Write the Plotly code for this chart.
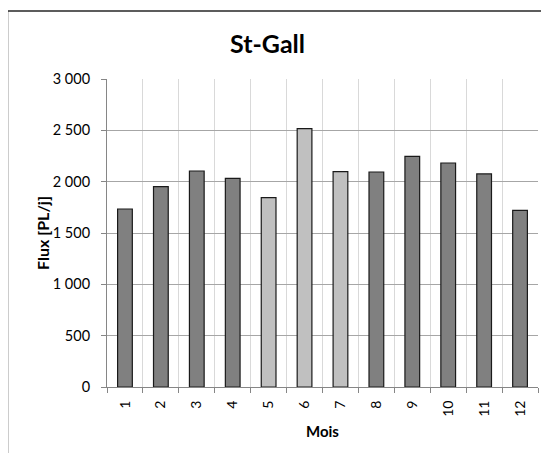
import plotly.graph_objects as go

months = list(range(1, 13))
flux = [1734, 1951, 2104, 2033, 1844, 2516, 2097, 2094, 2247, 2182, 2075, 1721]
# months 5-7 drawn in light grey
bar_colors = ["#c0c0c0" if m in (5, 6, 7) else "#808080" for m in months]

FONT = "Lato, 'Open Sans', sans-serif"

fig = go.Figure()
fig.add_trace(go.Bar(
    x=months, y=flux,
    marker=dict(color=bar_colors, line=dict(color="#1a1a1a", width=1.2)),
    width=0.41,
))

# page has an 8px body margin, so margins are shifted by that amount
fig.update_layout(
    width=549, height=453,
    margin=dict(l=99, r=19, t=71, b=74),
    paper_bgcolor="white", plot_bgcolor="white",
    separators=", ",
    showlegend=False,
    font=dict(family=FONT, color="#000000", size=14),
)

fig.update_xaxes(
    range=[0.5, 12.5],
    tickvals=months,
    ticktext=[str(m) for m in months],
    tickangle=-90,
    ticks="",
    showgrid=False,
    ticklabelstandoff=7,
    tickfont=dict(size=14),
    showline=True, linecolor="#868686", linewidth=1,
    zeroline=False,
    minor=dict(
        tickvals=[m - 0.5 for m in months] + [12.5],
        showgrid=True, gridcolor="#d9d9d9", gridwidth=1,
        ticks="outside", ticklen=5, tickcolor="#868686",
    ),
)

fig.update_yaxes(
    range=[0, 3000],
    dtick=500,
    tickformat=",d",
    showgrid=True, gridcolor="#a6a6a6", gridwidth=1,
    ticks="outside", ticklen=5, tickcolor="#868686",
    ticklabelstandoff=8,
    tickfont=dict(size=14.5),
    showline=True, linecolor="#868686", linewidth=1,
    zeroline=False,
)

# titles
fig.add_annotation(text="<b>St-Gall</b>", xref="paper", yref="paper",
                   x=0.3735, y=1.1169, xanchor="center", yanchor="middle",
                   showarrow=False, font=dict(size=25, family=FONT))
fig.add_annotation(text="<b>Flux [PL/j]</b>", xref="paper", yref="paper",
                   x=-0.1508, y=0.5, xanchor="center", yanchor="middle",
                   textangle=-90, showarrow=False, font=dict(size=16, family=FONT))
fig.add_annotation(text="<b>Mois</b>", xref="paper", yref="paper",
                   x=0.5, y=-0.1429, xanchor="center", yanchor="middle",
                   showarrow=False, font=dict(size=15, family=FONT))

# chart frame (top and left edges visible, the rest is cropped)
fig.add_shape(type="line", xref="paper", yref="paper",
              x0=-0.2309, x1=1.2, y0=1.2208, y1=1.2208,
              line=dict(color="#262626", width=1.5))
fig.add_shape(type="line", xref="paper", yref="paper",
              x0=-0.2309, x1=-0.2309, y0=1.2208, y1=-0.3,
              line=dict(color="#262626", width=1.5))

fig.write_html("out.html")
